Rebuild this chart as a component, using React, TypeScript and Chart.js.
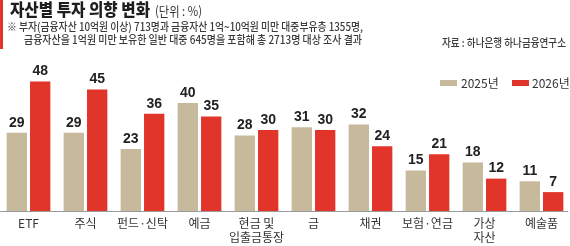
import React, { useEffect, useRef } from "react";
import { Chart, registerables } from "chart.js";

Chart.register(...registerables);

const categories: (string | string[])[] = [
  "ETF",
  "주식",
  "펀드·신탁",
  "예금",
  ["현금 및", "입출금통장"],
  "금",
  "채권",
  "보험·연금",
  ["가상", "자산"],
  "예술품",
];
const values2025 = [29, 29, 23, 40, 28, 31, 32, 15, 18, 11];
const values2026 = [48, 45, 36, 35, 30, 30, 24, 21, 12, 7];
const seriesNames = ["2025년", "2026년"];
const titleText = "자산별 투자 의향 변화";
const unitText = "(단위 : %)";
const noteLines = [
  "※ 부자(금융자산 10억원 이상) 713명과 금융자산 1억~10억원 미만 대중부유층 1355명,",
  "금융자산을 1억원 미만 보유한 일반 대중 645명을 포함해 총 2713명 대상 조사 결과",
];
const sourceText = "자료 : 하나은행 하나금융연구소";

const BEIGE = "#c6b99c";
const RED = "#e2352a";
const KFONT = '"Noto Sans CJK KR", "Noto Sans", sans-serif';

const decorPlugin = {
  id: "decor",
  afterDatasetsDraw(chart: any) {
    const ctx: CanvasRenderingContext2D = chart.ctx;
    const area = chart.chartArea;
    const xs = chart.scales.x;
    const ys = chart.scales.y;
    ctx.save();

    // left red accent bar
    ctx.fillStyle = RED;
    ctx.fillRect(0, 0, 3, 49);

    // title
    ctx.fillStyle = "#1e1e1e";
    ctx.textBaseline = "middle";
    ctx.textAlign = "left";
    ctx.font = `900 17px ${KFONT}`;
    ctx.fillText(titleText, 10, 10, 140);
    ctx.font = `13px ${KFONT}`;
    ctx.fillStyle = "#333";
    ctx.fillText(unitText, 155, 11, 47);

    // notes
    ctx.font = `500 11px ${KFONT}`;
    ctx.fillStyle = "#3a3a3a";
    ctx.fillText(noteLines[0], 7, 27, 356);
    ctx.fillText(noteLines[1], 24, 40, 338);

    // source
    ctx.textAlign = "right";
    ctx.fillText(sourceText, 566, 43, 124);

    // legend
    ctx.textAlign = "left";
    ctx.font = `12px ${KFONT}`;
    ctx.fillStyle = BEIGE;
    ctx.fillRect(440, 80, 17, 6);
    ctx.fillStyle = RED;
    ctx.fillRect(512, 80, 17, 6);
    ctx.fillStyle = "#333";
    ctx.fillText(seriesNames[0], 461, 83, 38);
    ctx.fillText(seriesNames[1], 532, 83, 38);

    // baseline
    const y0 = ys.getPixelForValue(0);
    ctx.strokeStyle = "#9a9a9a";
    ctx.lineWidth = 1;
    ctx.beginPath();
    ctx.moveTo(area.left, Math.round(y0) + 0.5);
    ctx.lineTo(area.right - 2, Math.round(y0) + 0.5);
    ctx.stroke();

    // value labels
    ctx.font = 'bold 14px "Liberation Sans", Arial, sans-serif';
    ctx.fillStyle = "#222";
    ctx.textAlign = "center";
    ctx.textBaseline = "bottom";
    chart.data.datasets.forEach((ds: any, di: number) => {
      const meta = chart.getDatasetMeta(di);
      meta.data.forEach((bar: any, i: number) => {
        ctx.fillText(String(ds.data[i]), bar.x, bar.y - 3);
      });
    });

    // category labels
    ctx.font = `12px ${KFONT}`;
    ctx.fillStyle = "#333";
    ctx.textBaseline = "middle";
    categories.forEach((c, i) => {
      const x = xs.getPixelForValue(i);
      const lines = Array.isArray(c) ? c : [c];
      lines.forEach((l, li) => {
        ctx.fillText(l, x, y0 + 12 + li * 14);
      });
    });
    ctx.restore();
  },
};

export default function App() {
  const ref = useRef<HTMLCanvasElement | null>(null);
  useEffect(() => {
    if (!ref.current) return;
    const chart = new Chart(ref.current, {
      type: "bar",
      data: {
        labels: categories.map((c) => (Array.isArray(c) ? c.join(" ") : c)),
        datasets: [
          {
            label: seriesNames[0],
            data: values2025,
            backgroundColor: BEIGE,
            borderWidth: 0,
            categoryPercentage: 0.82,
            barPercentage: 0.87,
          },
          {
            label: seriesNames[1],
            data: values2026,
            backgroundColor: RED,
            borderWidth: 0,
            categoryPercentage: 0.82,
            barPercentage: 0.87,
          },
        ],
      },
      options: {
        animation: false,
        responsive: false,
        devicePixelRatio: 1,
        layout: { padding: { top: 49, bottom: 35, left: 0, right: 0 } },
        plugins: {
          legend: { display: false },
          tooltip: { enabled: false },
        },
        scales: {
          x: { display: false, offset: true },
          y: { display: false, min: 0, max: 60 },
        },
      },
      plugins: [decorPlugin],
    });
    return () => chart.destroy();
  }, []);
  return (
    <div style={{ position: "fixed", left: 0, top: 0, width: 570, height: 246, background: "#fff" }}>
      <canvas ref={ref} width={570} height={246} style={{ display: "block" }} />
    </div>
  );
}
